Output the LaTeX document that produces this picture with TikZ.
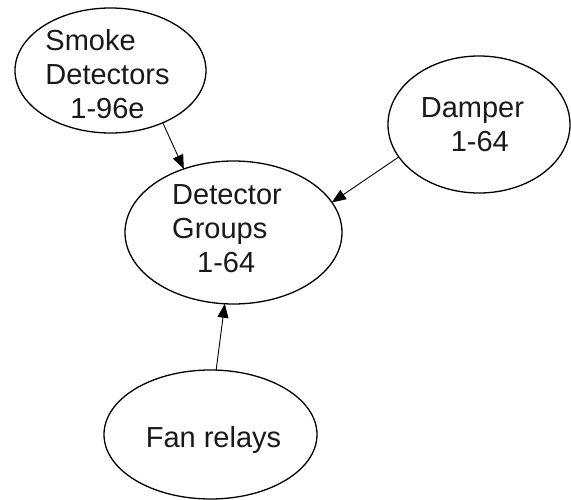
\documentclass[tikz,border=0pt]{standalone}
\usepackage{fontspec}
\setmainfont{Liberation Sans}
\usetikzlibrary{shapes.geometric,arrows.meta}
\begin{document}
\begin{tikzpicture}[x=1pt,y=-1pt,
  blob/.style={draw=black,ellipse,line width=1.3pt,inner sep=0pt,outer sep=0pt},
  lbl/.style={align=left,inner sep=0pt,font=\fontsize{29}{34}\selectfont,text=black!90},
  conn/.style={line width=0.9pt,-{Triangle[length=14pt,width=11pt]}}]
\useasboundingbox (0,0) rectangle (571,500);
\node[blob,minimum width=191pt,minimum height=125pt] (smoke) at (110.5,70.5) {};
\node[blob,minimum width=182pt,minimum height=137pt] (damper) at (479,124.5) {};
\node[blob,minimum width=217pt,minimum height=143pt] (groups) at (233.5,232.5) {};
\node[blob,minimum width=213pt,minimum height=129pt] (fan) at (210.5,434.5) {};
\node[lbl] (smoketxt) at (107.5,74) {Smoke\\Detectors\\\hspace*{25pt}1-96e};
\node[lbl] (dampertxt) at (472.4,124.5) {Damper\\\hspace*{30pt}1-64};
\node[lbl] (groupstxt) at (227,229) {Detector\\Groups\\\hspace*{25pt}1-64};
\node[lbl] (fantxt) at (213.5,440) {Fan relays};
\draw[conn] (smoke.-45.5) -- (groups.128.5);
\draw[conn] (damper.202.4) -- (groups.17.4);
\draw[conn] (fan.85.1) -- (groups.263.3);
\end{tikzpicture}
\end{document}
